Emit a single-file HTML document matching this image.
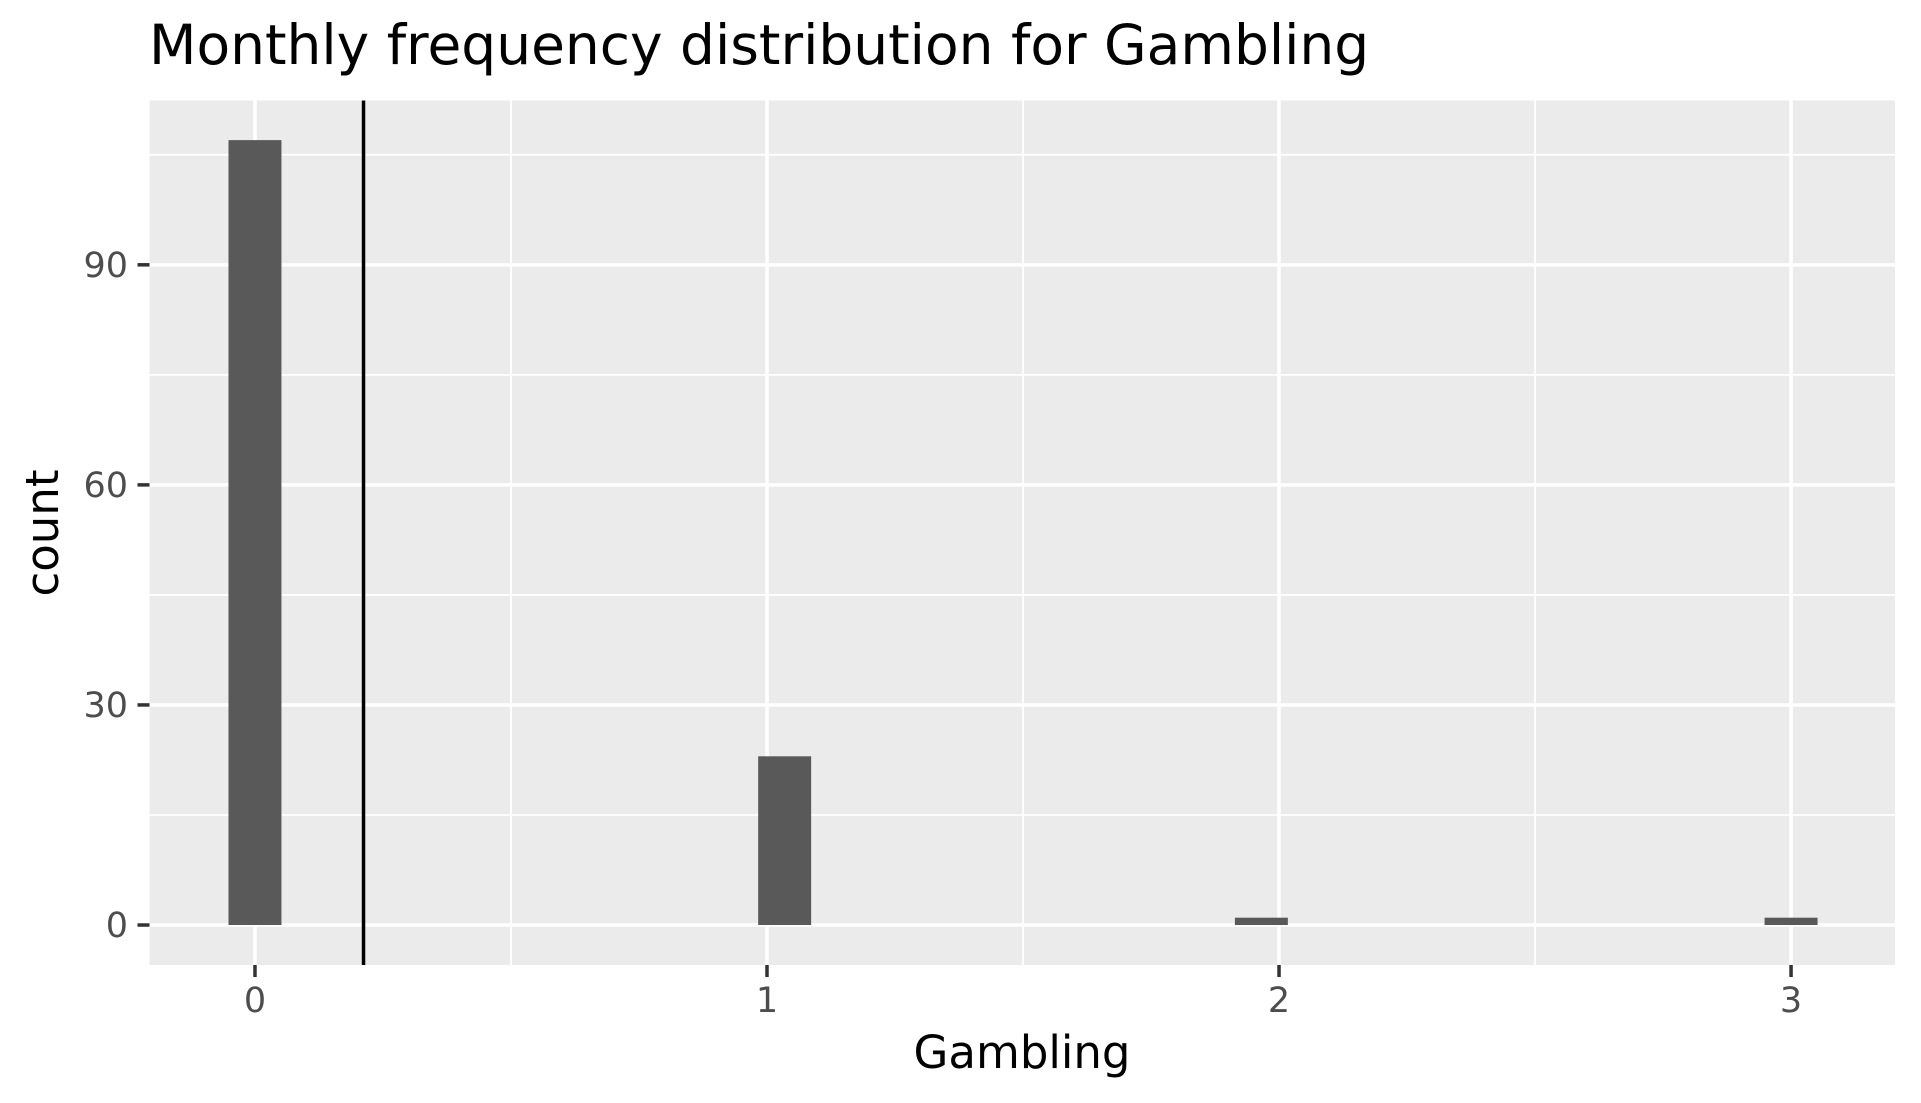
<!DOCTYPE html>
<html><head><meta charset="utf-8"><style>
html,body{margin:0;padding:0;background:#fff;}
svg{display:block;font-family:"DejaVu Sans","Liberation Sans",sans-serif;}
</style></head><body>
<svg id="chart" width="1921" height="1103" xmlns="http://www.w3.org/2000/svg">
<text x="149" y="64" font-size="55" fill="#000">Monthly frequency distribution for Gambling</text>
<rect x="149.5" y="100.5" width="1745.5" height="864.5" fill="#ebebeb"/>
<g id="grid"></g>
<g id="bars"></g>
<g id="axes"></g>
<text x="1022" y="1068" font-size="45" text-anchor="middle" fill="#000">Gambling</text>
<text transform="translate(58,533) rotate(-90)" font-size="45" text-anchor="middle" fill="#000">count</text>
</svg>
<script>
const categories = [0, 1, 2, 3];
const counts = [107, 23, 1, 1];
const numBins = 30;
const meanValue = 0.212;
const xTicks = [0, 1, 2, 3];
const yTicks = [0, 30, 60, 90];
const xMinor = [0.5, 1.5, 2.5];
const yMinor = [15, 45, 75, 105];

const L=149.5,R=1895,T=100.5,B=965;
const xmin=-0.206,xmax=3.203,ymin=-5.45,ymax=112.4;
const xs=v=>L+(v-xmin)/(xmax-xmin)*(R-L);
const ys=v=>B-(v-ymin)/(ymax-ymin)*(B-T);
const dmin=Math.min(...categories),dmax=Math.max(...categories);
const binWidth=(dmax-dmin)/(numBins-1);
const NS="http://www.w3.org/2000/svg";
function mk(tag,attrs,parent){const e=document.createElementNS(NS,tag);for(const k in attrs)e.setAttribute(k,attrs[k]);parent.appendChild(e);return e;}
const grid=document.getElementById('grid'),bars=document.getElementById('bars'),axes=document.getElementById('axes');
xMinor.forEach(v=>{const l=mk('line',{x1:xs(v),x2:xs(v),y1:T,y2:B,stroke:'#fff','stroke-width':1.8},grid);

});
yMinor.forEach(v=>{const l=mk('line',{x1:L,x2:R,y1:ys(v),y2:ys(v),stroke:'#fff','stroke-width':1.8},grid);

});
xTicks.forEach(v=>{const l=mk('line',{x1:xs(v),x2:xs(v),y1:T,y2:B,stroke:'#fff','stroke-width':3.5},grid);


const t=mk('line',{x1:xs(v),x2:xs(v),y1:B,y2:B+12,stroke:'#333','stroke-width':3.5},axes);


const tx=mk('text',{x:xs(v),y:1012,'font-size':35,'text-anchor':'middle',fill:'#4d4d4d'},axes);tx.textContent=v;

});
yTicks.forEach(v=>{const l=mk('line',{x1:L,x2:R,y1:ys(v),y2:ys(v),stroke:'#fff','stroke-width':3.5},grid);


const t=mk('line',{x1:L-12,x2:L,y1:ys(v),y2:ys(v),stroke:'#333','stroke-width':3.5},axes);


const tx=mk('text',{x:128,y:ys(v)+12,'font-size':35,'text-anchor':'end',fill:'#4d4d4d'},axes);tx.textContent=v;

});
categories.forEach((c,i)=>{const center=dmin+Math.round((c-dmin)/binWidth)*binWidth;
const x0=xs(center-binWidth/2),x1=xs(center+binWidth/2);
const r=mk('rect',{x:x0,y:ys(counts[i]),width:x1-x0,height:ys(0)-ys(counts[i]),fill:'#595959'},bars);

});
const vl=mk('line',{x1:xs(meanValue),x2:xs(meanValue),y1:T,y2:B,stroke:'#000','stroke-width':3.5},bars);


</script>
</body></html>
